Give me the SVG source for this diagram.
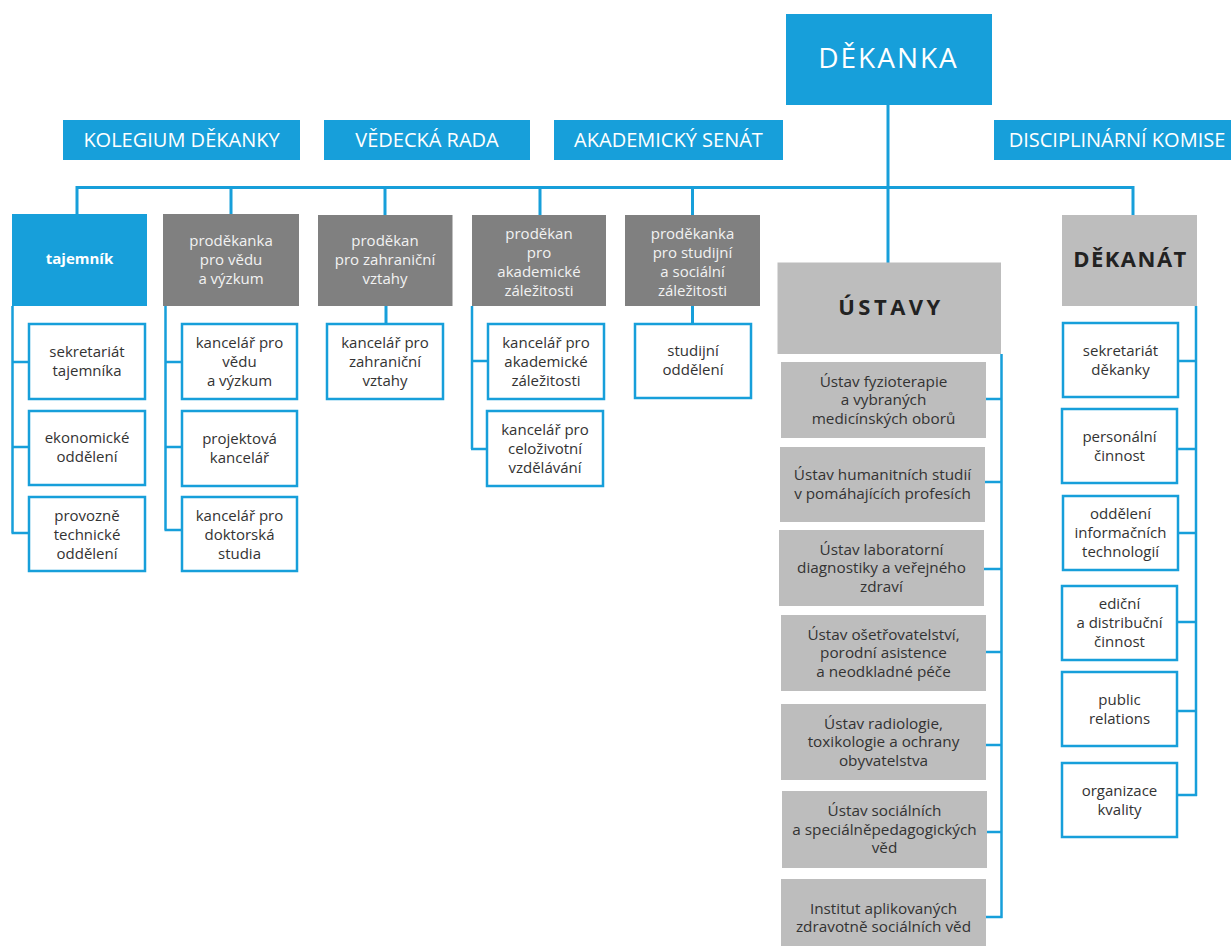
<svg xmlns="http://www.w3.org/2000/svg" width="1231" height="947" viewBox="0 0 1231 947">
<style>
.blue{fill:#179fda}
.dg{fill:#808080}
.lg{fill:#bdbdbd}
.child{fill:#ffffff;stroke:#179fda;stroke-width:2.5}
.t{font-family:"Open Sans","Noto Sans",sans-serif;text-anchor:middle}
.top{font-size:20px;fill:#ffffff}
.w{font-size:15px;fill:#f2f2f2}
.c{font-size:15px;fill:#333333}
.u{font-size:15.3px;fill:#333333}
.conn{fill:none;stroke:#179fda;stroke-width:2.5}
</style>
<rect width="1231" height="947" fill="#ffffff"/>

<g id="connectors">
<path class="conn" style="stroke-width:3" d="M77,214V187.5H1133V215M231,187.5V214M385,187.5V215M540,187.5V215M692.5,187.5V215M888,105V263"/>
<path class="conn" d="M12.5,306V533M11.5,362H28M11.5,447H28M11.5,533H28"/>
<path class="conn" d="M165.5,306V530M164.5,362H181M164.5,447H181M164.5,530H181"/>
<path class="conn" style="stroke-width:3" d="M386,306V323"/>
<path class="conn" d="M472,306V449M471,361H487M471,449H487"/>
<path class="conn" style="stroke-width:3" d="M692.5,306V323"/>
<path class="conn" d="M1001.5,354V918M986,399H1002.5M985,482H1002.5M984,569H1002.5M986,652H1002.5M986,745H1002.5M987,832H1002.5M986,917H1002.5"/>
<path class="conn" d="M1196,306V796M1179,361H1197M1178,449H1197M1179,533H1197M1178,622H1197M1178,711H1197M1178,795H1197"/>
</g>

<g id="dekanka">
<rect class="blue" x="786" y="14" width="206" height="91"/>
<text class="t" x="888.5" y="68" style="font-size:28px;fill:#ffffff;letter-spacing:2px">DĚKANKA</text>
</g>

<g id="kolegium">
<rect class="blue" x="63" y="120" width="237" height="40"/>
<text class="t top" x="181.5" y="147">KOLEGIUM DĚKANKY</text>
</g>
<g id="vedecka-rada">
<rect class="blue" x="324" y="120" width="206" height="40"/>
<text class="t top" x="427" y="147">VĚDECKÁ RADA</text>
</g>
<g id="akademicky-senat">
<rect class="blue" x="554" y="120" width="229" height="40"/>
<text class="t top" x="668.5" y="147">AKADEMICKÝ SENÁT</text>
</g>
<g id="disciplinarni-komise">
<rect class="blue" x="994" y="120" width="237" height="40"/>
<text class="t top" x="1117" y="147">DISCIPLINÁRNÍ KOMISE</text>
</g>

<g id="tajemnik">
<rect class="blue" x="12" y="214" width="135" height="92"/>
<text class="t" x="79.5" y="264" style="font-size:15px;font-weight:bold;fill:#ffffff">tajemník</text>
</g>
<g id="prodekanka-veda">
<rect class="dg" x="163" y="214" width="136" height="92"/>
<text class="t w" x="231"><tspan x="231" y="246">proděkanka</tspan><tspan x="231" y="265">pro vědu</tspan><tspan x="231" y="284">a výzkum</tspan></text>
</g>
<g id="prodekan-zahranicni">
<rect class="dg" x="318" y="215" width="134.5" height="91"/>
<text class="t w" x="385"><tspan x="385" y="246">proděkan</tspan><tspan x="385" y="265">pro zahraniční</tspan><tspan x="385" y="284">vztahy</tspan></text>
</g>
<g id="prodekan-akademicke">
<rect class="dg" x="472" y="215" width="134" height="91"/>
<text class="t w" x="539"><tspan x="539" y="238.5">proděkan</tspan><tspan x="539" y="257.5">pro</tspan><tspan x="539" y="276.5">akademické</tspan><tspan x="539" y="295.5">záležitosti</tspan></text>
</g>
<g id="prodekanka-studijni">
<rect class="dg" x="625" y="215" width="135" height="91"/>
<text class="t w" x="692.5"><tspan x="692.5" y="238.5">proděkanka</tspan><tspan x="692.5" y="257.5">pro studijní</tspan><tspan x="692.5" y="276.5">a sociální</tspan><tspan x="692.5" y="295.5">záležitosti</tspan></text>
</g>
<g id="ustavy">
<rect class="lg" x="777.5" y="262.5" width="223.5" height="91.5"/>
<text class="t" x="891" y="315" style="font-size:22px;font-weight:bold;fill:#222222;letter-spacing:3.5px">ÚSTAVY</text>
</g>
<g id="dekanat">
<rect class="lg" x="1062" y="215" width="135" height="91"/>
<text class="t" x="1130.5" y="267" style="font-size:22px;font-weight:bold;fill:#222222;letter-spacing:1.5px">DĚKANÁT</text>
</g>

<g id="sekretariat-tajemnika">
<rect class="child" x="29" y="324" width="116" height="75"/>
<text class="t c"><tspan x="87" y="357">sekretariát</tspan><tspan x="87" y="376">tajemníka</tspan></text>
</g>
<g id="ekonomicke-oddeleni">
<rect class="child" x="29" y="411" width="116" height="74"/>
<text class="t c"><tspan x="87" y="443">ekonomické</tspan><tspan x="87" y="462">oddělení</tspan></text>
</g>
<g id="provozne-technicke">
<rect class="child" x="29" y="497" width="116" height="74"/>
<text class="t c"><tspan x="87" y="521">provozně</tspan><tspan x="87" y="540">technické</tspan><tspan x="87" y="559">oddělení</tspan></text>
</g>

<g id="kancelar-veda">
<rect class="child" x="182" y="324" width="115" height="75"/>
<text class="t c"><tspan x="239.5" y="348">kancelář pro</tspan><tspan x="239.5" y="367">vědu</tspan><tspan x="239.5" y="386">a výzkum</tspan></text>
</g>
<g id="projektova-kancelar">
<rect class="child" x="182" y="411" width="115" height="75"/>
<text class="t c"><tspan x="239.5" y="444">projektová</tspan><tspan x="239.5" y="463">kancelář</tspan></text>
</g>
<g id="kancelar-doktorska">
<rect class="child" x="182" y="497" width="115" height="74"/>
<text class="t c"><tspan x="239.5" y="521">kancelář pro</tspan><tspan x="239.5" y="540">doktorská</tspan><tspan x="239.5" y="559">studia</tspan></text>
</g>

<g id="kancelar-zahranicni">
<rect class="child" x="327" y="324" width="116" height="75"/>
<text class="t c"><tspan x="385" y="348">kancelář pro</tspan><tspan x="385" y="367">zahraniční</tspan><tspan x="385" y="386">vztahy</tspan></text>
</g>

<g id="kancelar-akademicke">
<rect class="child" x="488" y="324" width="116" height="75"/>
<text class="t c"><tspan x="546" y="348">kancelář pro</tspan><tspan x="546" y="367">akademické</tspan><tspan x="546" y="386">záležitosti</tspan></text>
</g>
<g id="kancelar-celozivotni">
<rect class="child" x="487" y="411" width="116" height="75"/>
<text class="t c"><tspan x="545" y="435">kancelář pro</tspan><tspan x="545" y="454">celoživotní</tspan><tspan x="545" y="473">vzdělávání</tspan></text>
</g>

<g id="studijni-oddeleni">
<rect class="child" x="635" y="324" width="116" height="74"/>
<text class="t c"><tspan x="693" y="356">studijní</tspan><tspan x="693" y="375">oddělení</tspan></text>
</g>

<g id="ustav-fyzioterapie">
<rect class="lg" x="781" y="362" width="205" height="76"/>
<text class="t u"><tspan x="883.5" y="386.5">Ústav fyzioterapie</tspan><tspan x="883.5" y="405">a vybraných</tspan><tspan x="883.5" y="423.5">medicínských oborů</tspan></text>
</g>
<g id="ustav-humanitnich">
<rect class="lg" x="780" y="447" width="205" height="75"/>
<text class="t u"><tspan x="882.5" y="480">Ústav humanitních studií</tspan><tspan x="882.5" y="498.5">v pomáhajících profesích</tspan></text>
</g>
<g id="ustav-laboratorni">
<rect class="lg" x="779" y="530" width="205" height="76"/>
<text class="t u"><tspan x="881.5" y="554.5">Ústav laboratorní</tspan><tspan x="881.5" y="573">diagnostiky a veřejného</tspan><tspan x="881.5" y="591.5">zdraví</tspan></text>
</g>
<g id="ustav-osetrovatelstvi">
<rect class="lg" x="781" y="615" width="205" height="76"/>
<text class="t u"><tspan x="883.5" y="639.5">Ústav ošetřovatelství,</tspan><tspan x="883.5" y="658">porodní asistence</tspan><tspan x="883.5" y="676.5">a neodkladné péče</tspan></text>
</g>
<g id="ustav-radiologie">
<rect class="lg" x="781" y="704" width="205" height="76"/>
<text class="t u"><tspan x="883.5" y="728.5">Ústav radiologie,</tspan><tspan x="883.5" y="747">toxikologie a ochrany</tspan><tspan x="883.5" y="765.5">obyvatelstva</tspan></text>
</g>
<g id="ustav-socialnich">
<rect class="lg" x="782" y="791" width="205" height="77"/>
<text class="t u"><tspan x="884.5" y="816">Ústav sociálních</tspan><tspan x="884.5" y="834.5">a speciálněpedagogických</tspan><tspan x="884.5" y="853">věd</tspan></text>
</g>
<g id="institut-aplikovanych">
<rect class="lg" x="781" y="879" width="205" height="67"/>
<text class="t u"><tspan x="883.5" y="914">Institut aplikovaných</tspan><tspan x="883.5" y="932">zdravotně sociálních věd</tspan></text>
</g>

<g id="sekretariat-dekanky">
<rect class="child" x="1063" y="323" width="115" height="74"/>
<text class="t c"><tspan x="1120.5" y="355.5">sekretariát</tspan><tspan x="1120.5" y="374.5">děkanky</tspan></text>
</g>
<g id="personalni-cinnost">
<rect class="child" x="1062" y="409" width="115" height="74"/>
<text class="t c"><tspan x="1119.5" y="441.5">personální</tspan><tspan x="1119.5" y="460.5">činnost</tspan></text>
</g>
<g id="oddeleni-it">
<rect class="child" x="1063" y="496" width="115" height="74"/>
<text class="t c"><tspan x="1120.5" y="519">oddělení</tspan><tspan x="1120.5" y="538">informačních</tspan><tspan x="1120.5" y="557">technologií</tspan></text>
</g>
<g id="edicni-cinnost">
<rect class="child" x="1062" y="586" width="115" height="74"/>
<text class="t c"><tspan x="1119.5" y="609">ediční</tspan><tspan x="1119.5" y="628">a distribuční</tspan><tspan x="1119.5" y="647">činnost</tspan></text>
</g>
<g id="public-relations">
<rect class="child" x="1062" y="672" width="115" height="74"/>
<text class="t c"><tspan x="1119.5" y="705">public</tspan><tspan x="1119.5" y="724">relations</tspan></text>
</g>
<g id="organizace-kvality">
<rect class="child" x="1062" y="763" width="115" height="74"/>
<text class="t c"><tspan x="1119.5" y="796">organizace</tspan><tspan x="1119.5" y="815">kvality</tspan></text>
</g>
</svg>
